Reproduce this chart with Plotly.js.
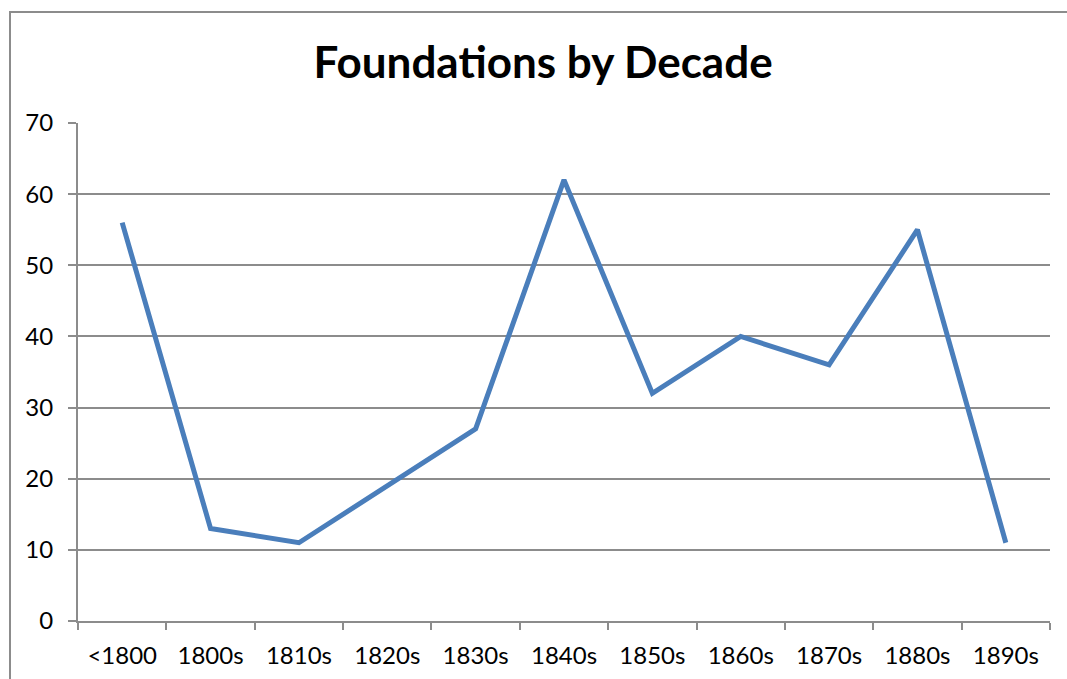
<!DOCTYPE html>
<html>
<head>
<meta charset="utf-8">
<script src="https://cdn.plot.ly/plotly-3.0.1.min.js"></script>
<style>
  body { margin: 0; background: #fff; }
  #frame { position: absolute; left: 9px; top: 11px; width: 1100px; height: 700px;
           border: 2px solid #8c8c8c; box-sizing: border-box; }
  #chart { position: absolute; left: 0; top: 0; width: 1067px; height: 679px; }
</style>
</head>
<body>
<div id="frame"></div>
<div id="chart"></div>
<script>
var decades = ['<1800', '1800s', '1810s', '1820s', '1830s', '1840s', '1850s', '1860s', '1870s', '1880s', '1890s'];
var foundations = [56, 13, 11, 19, 27, 62, 32, 40, 36, 55, 11];

var series = {
    x: decades,
    y: foundations,
    mode: 'lines',
    type: 'scatter',
    line: { color: '#4a7ebb', width: 5 },
    hoverinfo: 'x+y'
};

var layout = {
    width: 1067,
    height: 679,
    paper_bgcolor: 'rgba(0,0,0,0)',
    plot_bgcolor: 'rgba(0,0,0,0)',
    margin: { l: 78, r: 17, t: 123, b: 58 },
    showlegend: false,
    font: { family: 'Lato, "Open Sans", sans-serif', size: 24, color: '#000' },
    title: {
        text: '<b>Foundations by Decade</b>',
        font: { size: 44, color: '#000' },
        x: 0.509,
        xanchor: 'center',
        y: 0.908,
        yanchor: 'middle'
    },
    xaxis: {
        type: 'category',
        range: [-0.5, 10.5],
        tickson: 'boundaries',
        ticks: 'outside',
        ticklen: 7,
        tickwidth: 2,
        tickcolor: '#8c8c8c',
        showgrid: false,
        showline: true,
        linecolor: '#8c8c8c',
        linewidth: 2,
        ticklabelstandoff: 12,
        fixedrange: true
    },
    yaxis: {
        range: [0, 70],
        dtick: 10,
        ticks: 'outside',
        ticklen: 8,
        tickwidth: 2,
        tickcolor: '#8c8c8c',
        showgrid: true,
        gridcolor: '#8c8c8c',
        gridwidth: 2,
        zeroline: false,
        showline: true,
        linecolor: '#8c8c8c',
        linewidth: 2,
        ticklabelstandoff: 10,
        fixedrange: true
    }
};

Plotly.newPlot('chart', [series], layout, { displayModeBar: false, staticPlot: true });
</script>
</body>
</html>
